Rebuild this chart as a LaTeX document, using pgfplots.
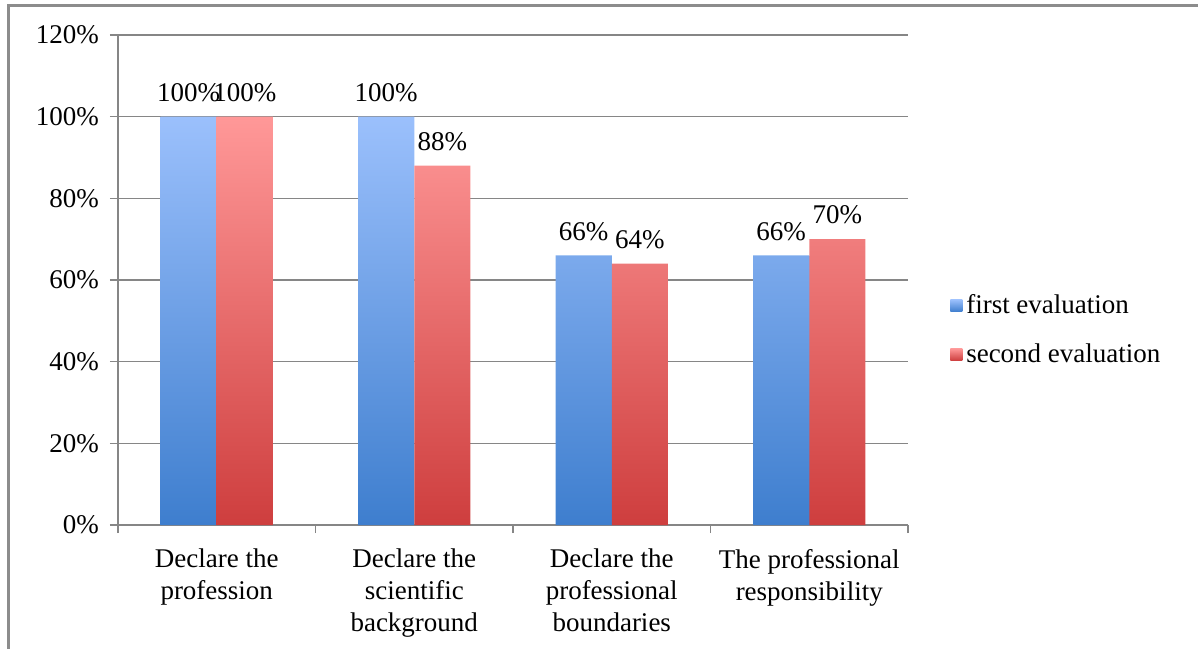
\documentclass[border=0pt]{standalone}
\usepackage{fontspec}
\setmainfont{Liberation Serif}
\usepackage{pgfplots}
\pgfplotsset{compat=1.18}

\definecolor{bluetop}{RGB}{155,192,252}
\definecolor{bluebot}{RGB}{62,126,206}
\definecolor{redtop}{RGB}{255,152,152}
\definecolor{redbot}{RGB}{206,62,62}
\definecolor{gridgray}{RGB}{134,134,134}
\definecolor{framegray}{RGB}{140,140,140}

\newcommand{\chartfont}{\fontsize{13.5}{16}\selectfont}

\begin{document}
\begin{tikzpicture}
\path[use as bounding box] (0pt,0pt) rectangle (599pt,324pt);
\draw[framegray, line width=1.5pt] (4pt,-1pt) -- (4pt,321pt) -- (600pt,321pt);
\begin{axis}[
  at={(59pt,61.5pt)}, anchor=south west,
  width=395pt, height=245pt, scale only axis,
  ybar=0pt, bar width=0.284,
  ymin=0, ymax=120, ytick={0,20,...,120},
  yticklabel={\pgfmathprintnumber{\tick}\%},
  /pgf/number format/assume math mode=true,
  xmin=-0.5, xmax=3.5,
  xtick={0,1,2,3},
  xticklabels={{Declare the\\profession},{Declare the\\scientific\\background},{Declare the\\professional\\boundaries},{The professional\\responsibility}},
  minor xtick={-0.5,0.5,1.5,2.5,3.5},
  major x tick style={draw=none},
  axis lines*=left,
  axis line style={gridgray, line width=0.6pt},
  ymajorgrids, grid style={gridgray, line width=0.6pt},
  tick style={gridgray, line width=0.6pt},
  tick align=outside,
  major tick length=4pt, minor tick length=4pt,
  tick label style={font=\chartfont, text=black},
  yticklabel style={xshift=-2pt},
  xticklabel style={align=center, yshift=-4.5pt},
  legend style={at={(1.053,0.398)}, anchor=west, draw=none, fill=none,
    font=\chartfont, row sep=9.5pt, inner sep=0pt},
  legend cell align=left,
  legend image code/.code={\path[#1, draw=none] (0pt,-3pt) rectangle (6pt,3pt);},
  nodes near coords={\pgfmathprintnumber{\pgfplotspointmeta}\%},
  point meta=y,
  every node near coord/.append style={font=\chartfont, text=black, yshift=4pt},
]
\addplot[draw=none, top color=bluetop, bottom color=bluebot]
  coordinates {(0,100) (1,100) (2,66) (3,66)};
\addlegendentry{first evaluation}
\addplot[draw=none, top color=redtop, bottom color=redbot]
  coordinates {(0,100) (1,88) (2,64) (3,70)};
\addlegendentry{second evaluation}
\end{axis}
\end{tikzpicture}
\end{document}
